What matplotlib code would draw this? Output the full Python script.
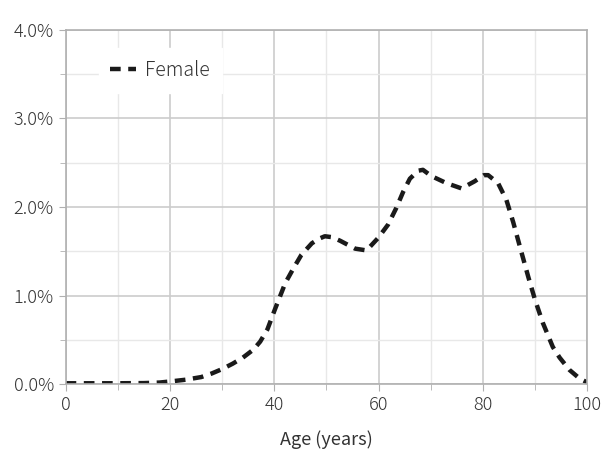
import matplotlib.pyplot as plt
from matplotlib.ticker import MultipleLocator, FuncFormatter

plt.rcParams['font.family'] = ['Noto Sans CJK JP', 'DejaVu Sans']
plt.rcParams['font.weight'] = 'light'

# age (years) and share of females (%)
age = [0, 5, 10, 15, 18, 20, 23, 26, 28, 30, 32, 34, 36, 37.3, 38.7, 40.1, 42.1, 43.7, 45.2,
       47.2, 48.5, 49.7, 51, 52.6, 55.5, 57.7, 59.9, 61.8, 63.4, 64.7, 66.0, 67.6, 68.5, 70.1,
       73.0, 75.9, 78.4, 80.2, 81.0, 82.9, 84.5, 85.8, 87.1, 88.7, 90.0, 91.5, 93.4, 94.7, 96.6,
       98.6, 100]
female = [0.01, 0.01, 0.01, 0.012, 0.018, 0.03, 0.05, 0.08, 0.12, 0.17, 0.23, 0.30, 0.39, 0.48,
          0.62, 0.84, 1.14, 1.31, 1.46, 1.59, 1.64, 1.67, 1.66, 1.62, 1.53, 1.51, 1.65, 1.80,
          1.99, 2.17, 2.32, 2.41, 2.42, 2.35, 2.27, 2.21, 2.29, 2.36, 2.36, 2.27, 2.08, 1.83,
          1.55, 1.21, 0.95, 0.69, 0.42, 0.30, 0.16, 0.06, 0.02]

fig = plt.figure(figsize=(6.13, 4.53), dpi=100)
ax = fig.add_axes([0.107, 0.152, 0.851, 0.782])

ax.plot(age, female, color='#1a1a1a', lw=3.2, dashes=(2.4, 1.7), label='Female')

ax.set_xlim(0, 100)
ax.set_ylim(0, 4)
ax.xaxis.set_major_locator(MultipleLocator(20))
ax.xaxis.set_minor_locator(MultipleLocator(10))
ax.yaxis.set_major_locator(MultipleLocator(1))
ax.yaxis.set_minor_locator(MultipleLocator(0.5))
ax.yaxis.set_major_formatter(FuncFormatter(lambda v, p: '%.1f%%' % v))

ax.grid(which='major', color='#cccccc', lw=1.2)
ax.grid(which='minor', color='#e8e8e8', lw=1.0)
ax.set_axisbelow(True)
for s in ax.spines.values():
    s.set_color('#b0b0b0')
    s.set_linewidth(1.2)
ax.tick_params(which='both', color='#b0b0b0', labelcolor='#333333', labelsize=13, length=5)
ax.tick_params(which='minor', length=4)

ax.set_xlabel('Age (years)', fontsize=13, color='#333333', labelpad=12)

leg = ax.legend(loc='upper left', bbox_to_anchor=(0.045, 0.975), frameon=True, fontsize=14,
                handlelength=1.3, handletextpad=0.5, borderpad=0.6, fancybox=False)
leg.get_frame().set_edgecolor('white')
leg.get_frame().set_facecolor('white')
leg.get_frame().set_alpha(1)
for t in leg.get_texts():
    t.set_color('#333333')

fig.savefig('out.png', dpi=100)
